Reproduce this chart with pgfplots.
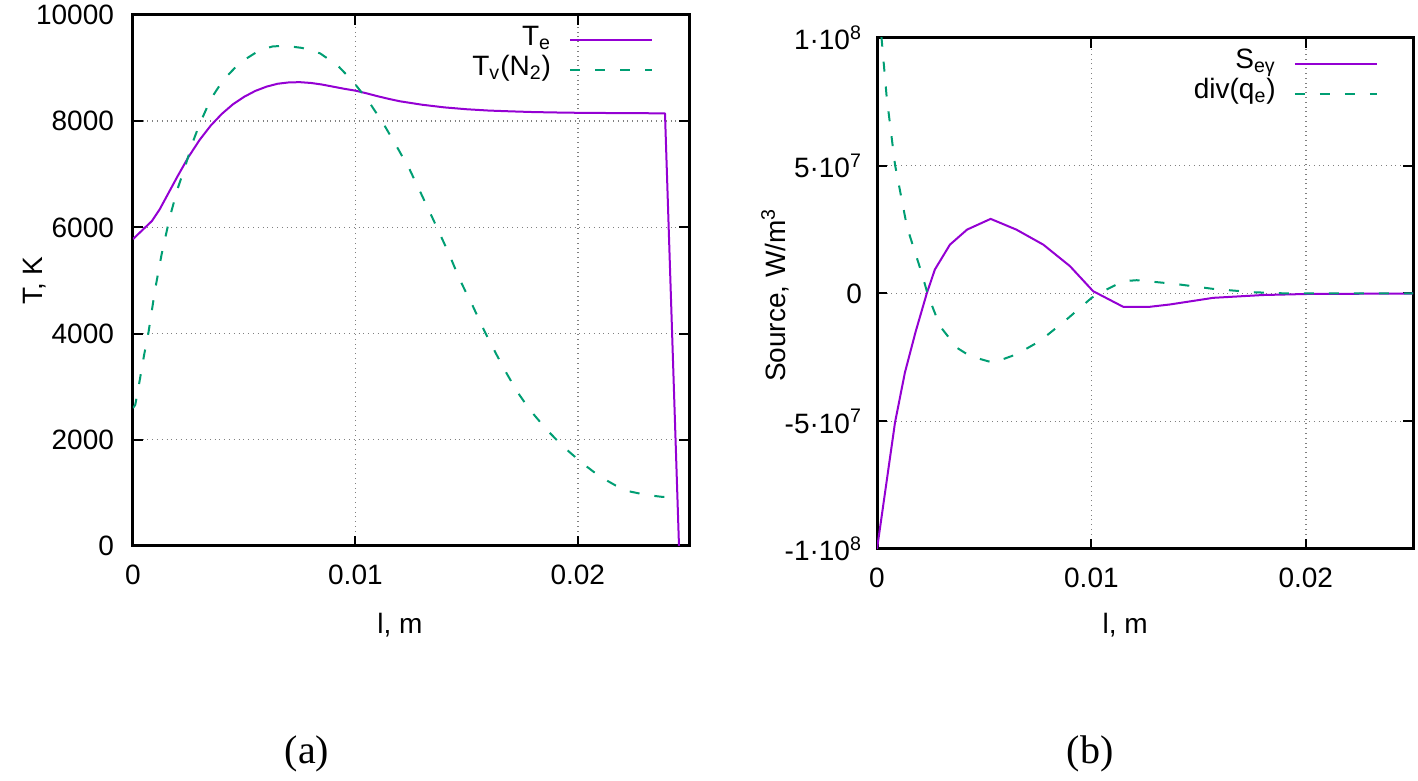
\documentclass[border=0pt]{standalone}
\usepackage{fontspec}
\setmainfont{Liberation Sans}
\newfontfamily\capfont{Liberation Serif}
\usepackage{pgfplots}
\pgfplotsset{compat=1.18}
\definecolor{cviolet}{RGB}{148,0,211}
\definecolor{cgreen}{RGB}{0,158,115}

\pgfplotsset{
 myaxis/.style={
  scale only axis,
  font=\fontsize{14}{16}\selectfont,
  xmin=0,xmax=0.025,
  xtick={0,0.01,0.02}, xticklabels={0,0.01,0.02},
  scaled ticks=false,
  grid=major,
  grid style={dotted, gray, line width=0.7pt},
  axis line style={line width=1.5pt},
  tick align=inside,
  major tick length=5pt,
  tick style={black, line width=1pt},
  xticklabel style={yshift=-6pt},
  legend plot pos=right,
  legend cell align=right,
  legend style={draw=none, fill=none, inner sep=0pt, row sep=0pt,
    font=\fontsize{14}{16}\selectfont,
    nodes={inner sep=0pt, text height=10pt, text depth=5pt},
    /tikz/every odd column/.append style={column sep=9pt}},
  legend image code/.code={\draw[##1] (0pt,0pt) -- (41pt,0pt);},
 },
 te/.style={cviolet, line width=1pt, line join=round},
 tv/.style={cgreen, line width=1pt, dash pattern=on 5pt off 7.5pt},
}

\begin{document}
\begin{tikzpicture}
\path[use as bounding box] (0,0) rectangle (709pt,390.5pt);

\begin{axis}[myaxis,
  at={(66.5pt,117.5pt)}, anchor=south west,
  width=278pt, height=265.5pt,
  ymin=0, ymax=10000,
  ytick={0,2000,4000,6000,8000,10000},
  yticklabels={0,2000,4000,6000,8000,10000},
  yticklabel style={xshift=-6pt},
  xlabel={l, m}, ylabel={T, K},
  xlabel style={at={(axis description cs:0.48,-0.149)}, anchor=center},
  ylabel style={at={(axis description cs:-0.176,0.5)}, anchor=center},
  legend style={at={(axis description cs:0.936,0.981)}, anchor=north east},
]
\addplot[te] coordinates {
(0,5780) (0.00085,6120) (0.0012,6340) (0.0016,6650) (0.002,6960)
(0.0025,7330) (0.003,7650) (0.0035,7920) (0.004,8140) (0.0045,8320)
(0.005,8460) (0.0055,8570) (0.006,8650) (0.0065,8705) (0.007,8730)
(0.0075,8735) (0.008,8720) (0.0085,8690) (0.009,8650) (0.0095,8610)
(0.01,8575) (0.0105,8525) (0.011,8470) (0.0115,8420) (0.012,8375)
(0.013,8310) (0.014,8260) (0.015,8225) (0.016,8200) (0.017,8185)
(0.018,8172) (0.019,8164) (0.02,8158) (0.022,8152) (0.02392,8148)
(0.02455,0)
};
\addlegendentry{T\textsubscript{e}}
\addplot[tv] coordinates {
(0,2600) (0.0001,2655) (0.00024,2970) (0.0005,3600) (0.00069,4005)
(0.00099,4821) (0.00129,5500) (0.00166,6200) (0.002,6720) (0.00234,7143)
(0.0027,7620) (0.003,7950) (0.0035,8420) (0.00406,8776) (0.0048,9100)
(0.00571,9341) (0.0063,9410) (0.00691,9416) (0.0076,9380) (0.00841,9278)
(0.0092,9050) (0.0099,8744) (0.0106,8370) (0.01125,7960) (0.01185,7530)
(0.01245,7081) (0.01305,6550) (0.01365,6013) (0.0142,5510) (0.0147,5009)
(0.0153,4500) (0.0158,4050) (0.0163,3640) (0.0168,3250) (0.0173,2890)
(0.01785,2561) (0.0186,2190) (0.01935,1870) (0.0202,1560) (0.021,1305)
(0.0217,1140) (0.0223,1030) (0.0231,960) (0.0238,925) (0.02445,917)
};
\addlegendentry{T\textsubscript{v}(N\textsubscript{2})}
\end{axis}

\begin{axis}[myaxis,
  at={(438.5pt,116pt)}, anchor=south west,
  width=268pt, height=255.5pt,
  ymin=-1e8, ymax=1e8,
  ytick={-1e8,-5e7,0,5e7,1e8},
  yticklabels={-1·10\textsuperscript{8},-5·10\textsuperscript{7},0,5·10\textsuperscript{7},1·10\textsuperscript{8}},
  yticklabel style={xshift=-4pt},
  xlabel={l, m}, ylabel={Source, W/m\textsuperscript{3}},
  xlabel style={at={(axis description cs:0.463,-0.149)}, anchor=center},
  ylabel style={at={(axis description cs:-0.19,0.497)}, anchor=center},
  legend style={at={(axis description cs:0.935,0.980)}, anchor=north east},
]
\addplot[te] coordinates {
(0,-1e8) (0.00084,-5.05e7) (0.0013,-3.1e7) (0.0018,-1.5e7) (0.00232,0)
(0.0027,9.4e6) (0.0034,1.91e7) (0.0042,2.5e7) (0.0053,2.92e7) (0.0065,2.5e7)
(0.00776,1.91e7) (0.009,1.07e7) (0.01008,9e5) (0.01148,-5.2e6) (0.01273,-5.2e6)
(0.01366,-4.3e6) (0.01568,-1.7e6) (0.018,-6e5) (0.02,-2e5) (0.025,0)
};
\addlegendentry{S\textsubscript{eγ}}
\addplot[tv] coordinates {
(0,1.2e8) (0.00022,9.92e7) (0.00045,7.7e7) (0.00084,5.04e7) (0.0014,2.6e7)
(0.00208,8.1e6) (0.00239,-1e6) (0.00294,-1.28e7) (0.00372,-2.12e7) (0.00434,-2.45e7)
(0.00542,-2.71e7) (0.00651,-2.38e7) (0.0076,-1.86e7) (0.00884,-1.02e7) (0.01001,-1.7e6)
(0.01055,9e5) (0.01148,4.8e6) (0.01211,5.2e6) (0.01335,4.2e6) (0.01413,3.5e6)
(0.01568,1.8e6) (0.01755,5e5) (0.0188,1e5) (0.02,0) (0.025,0)
};
\addlegendentry{div(q\textsubscript{e})}
\end{axis}

\node[font=\capfont\fontsize{20}{24}\selectfont] at (153.5pt,13.5pt) {(a)};
\node[font=\capfont\fontsize{20}{24}\selectfont] at (545pt,13.5pt) {(b)};
\end{tikzpicture}
\end{document}
